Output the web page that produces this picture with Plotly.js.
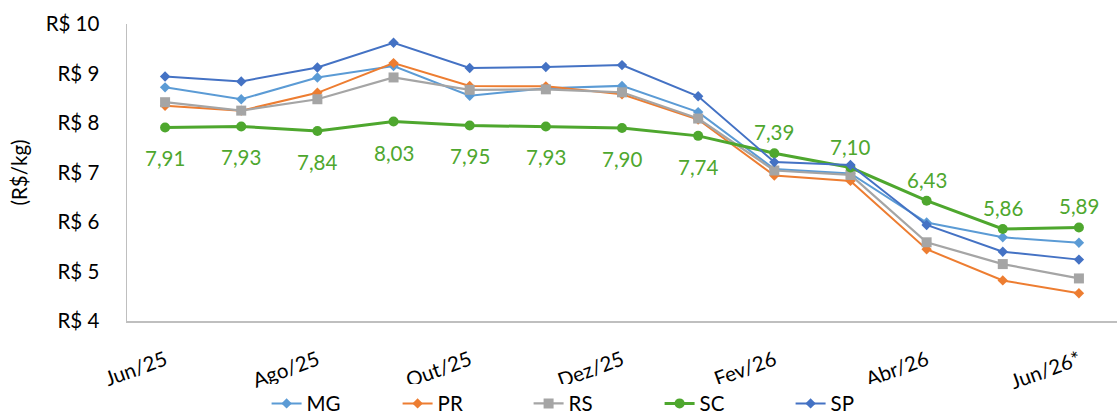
<!DOCTYPE html>
<html>
<head>
<meta charset="utf-8">
<script src="https://cdn.plot.ly/plotly-3.0.1.min.js"></script>
<style>
  html, body { margin: 0; padding: 0; background: #fff; overflow: hidden; }
  #chart { width: 1117px; height: 416px; }
</style>
</head>
<body>
<div id="chart"></div>
<script>
const months = ["Jun/25","Jul/25","Ago/25","Set/25","Out/25","Nov/25","Dez/25","Jan/26","Fev/26","Mar/26","Abr/26","Mai/26","Jun/26*"];
const tickLabels = ["Jun/25","Ago/25","Out/25","Dez/25","Fev/26","Abr/26","Jun/26*"];

const MG = [8.72, 8.48, 8.92, 9.15, 8.55, 8.70, 8.75, 8.22, 7.07, 6.98, 5.99, 5.69, 5.58];
const PR = [8.35, 8.25, 8.61, 9.21, 8.75, 8.74, 8.58, 8.07, 6.94, 6.83, 5.45, 4.82, 4.56];
const RS = [8.42, 8.25, 8.48, 8.92, 8.67, 8.68, 8.62, 8.09, 7.04, 6.95, 5.59, 5.15, 4.86];
const SC = [7.91, 7.93, 7.84, 8.03, 7.95, 7.93, 7.90, 7.74, 7.39, 7.10, 6.43, 5.86, 5.89];
const SP = [8.94, 8.84, 9.12, 9.62, 9.11, 9.13, 9.17, 8.54, 7.21, 7.15, 5.94, 5.40, 5.24];

const FONT = "Lato, 'Open Sans', sans-serif";
const FS = 20.5;
const BLUE_L = "#5B9BD5", ORANGE = "#ED7D31", GRAY = "#A5A5A5", GREEN = "#4EA72E", BLUE = "#4472C4";

function tr(name, y, color, symbol, msize, lw) {
  return {
    type: "scatter", mode: "lines+markers", name: name,
    x: months, y: y,
    line: { color: color, width: lw },
    marker: { color: color, symbol: symbol, size: msize },
    hoverinfo: "skip"
  };
}

const data = [
  tr("MG", MG, BLUE_L, "diamond", 8, 2),
  tr("PR", PR, ORANGE, "diamond", 8, 2),
  tr("RS", RS, GRAY, "square", 10, 2.25),
  tr("SC", SC, GREEN, "circle", 10, 3),
  tr("SP", SP, BLUE, "diamond", 8, 2)
];

const annotations = SC.map((v, i) => ({
  x: months[i], y: v, xref: "x", yref: "y",
  text: v.toFixed(2).replace(".", ","),
  showarrow: false,
  yshift: i < 8 ? -31 : 21,
  font: { family: FONT, size: FS, color: GREEN }
}));

const layout = {
  width: 1117, height: 416,
  margin: { l: 127, r: 0, t: 24, b: 95, autoexpand: false },
  paper_bgcolor: "#fff", plot_bgcolor: "#fff",
  font: { family: FONT, size: FS, color: "#000" },
  showlegend: true,
  legend: {
    orientation: "h", x: 0.141, xanchor: "left", y: -0.278, yanchor: "middle",
    font: { family: FONT, size: FS, color: "#000" },
    entrywidth: 86, entrywidthmode: "pixels",
    traceorder: "normal"
  },
  xaxis: {
    type: "category",
    categoryorder: "array", categoryarray: months,
    range: [-0.5, months.length - 0.5],
    tickmode: "array", tickvals: tickLabels, ticktext: tickLabels,
    tickangle: -20,
    showgrid: false, zeroline: false,
    showline: true, linecolor: "#BFBFBF", linewidth: 1.5,
    ticks: "", ticklabelstandoff: 18,
    tickfont: { family: FONT, size: FS, color: "#000" },
    automargin: false,
    fixedrange: true
  },
  yaxis: {
    range: [4, 10], dtick: 1, tick0: 4,
    tickprefix: "R$ ",
    showgrid: false, zeroline: false,
    showline: true, linecolor: "#BFBFBF", linewidth: 1.5,
    ticks: "", ticklabelstandoff: 22,
    tickfont: { family: FONT, size: FS, color: "#000" },
    title: { text: "(R$/kg)", font: { family: FONT, size: FS, color: "#000" }, standoff: 12 },
    automargin: false,
    fixedrange: true
  },
  annotations: annotations
};

Plotly.newPlot("chart", data, layout, { displayModeBar: false, staticPlot: true });
</script>
</body>
</html>
